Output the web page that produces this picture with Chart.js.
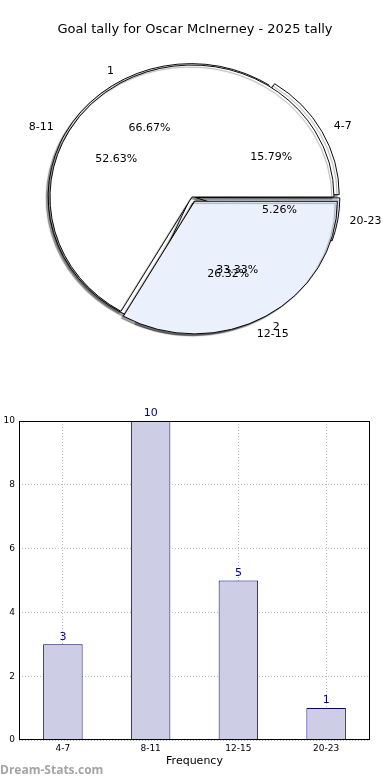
<!DOCTYPE html>
<html>
<head>
<meta charset="utf-8">
<script src="https://cdn.jsdelivr.net/npm/chart.js@4/dist/chart.umd.min.js"></script>
<style>
body { margin: 0; background: #fff; width: 390px; height: 780px; position: relative; overflow: hidden; }
canvas { position: absolute; left: 0; }
#pieB, #pieA { top: 0; }
#bar { top: 400px; }
#mark { position: absolute; left: 0; top: 761px; font: bold 12px "Open Sans"; color: #a4a4a4; }
</style>
</head>
<body>
<canvas id="pieB" width="390" height="400"></canvas>
<canvas id="pieA" width="390" height="400"></canvas>
<canvas id="bar" width="390" height="380"></canvas>
<div id="mark">Dream-Stats.com</div>
<script>
var chartTitle = 'Goal tally for Oscar McInerney - 2025 tally';
var tallyLabels = ['1', '2'];
var tallyValues = [2, 1];
var binLabels = ['4-7', '8-11', '12-15', '20-23'];
var binValues = [3, 10, 5, 1];
var yTicks = [0, 2, 4, 6, 8, 10];

Chart.defaults.font.family = 'DejaVu Sans';
Chart.defaults.color = '#000';

// pie geometry (matplotlib draws it a bit squashed)
var R = 142, CX = 192, CY = 197, SQ = 132 / 142;
var blue = 'rgb(234,240,252)';

// chart.js goes clockwise from the top, matplotlib counter-clockwise from 3 o'clock,
// so feed the slices reversed and start at 90 degrees
function rev(a) { return a.slice().reverse(); }

var squash = {
    id: 'squash',
    beforeDatasetsDraw: function (chart) {
        var c = chart.ctx;
        c.save();
        c.translate(0, CY);
        c.scale(1, SQ);
        c.translate(0, -CY);
        c.shadowColor = 'rgba(0,0,0,0.35)';
        c.shadowOffsetX = -2;
        c.shadowOffsetY = 2;
        c.shadowBlur = 1;
    },
    afterDatasetsDraw: function (chart) {
        chart.ctx.restore();
    }
};

function pieConfig(labels, values, colors, offsets) {
    return {
        type: 'pie',
        data: {
            labels: rev(labels),
            datasets: [{
                data: rev(values),
                backgroundColor: rev(colors),
                borderColor: '#000',
                borderWidth: 1,
                hoverBorderWidth: 1,
                offset: rev(offsets),
                hoverOffset: 0,
                radius: R
            }]
        },
        options: {
            responsive: false,
            animation: false,
            rotation: 90,
            events: [],
            layout: { padding: { left: 0, top: 0, right: 390 - 2 * CX, bottom: 400 - 2 * CY } },
            plugins: { legend: { display: false }, tooltip: { enabled: false } }
        },
        plugins: [squash]
    };
}

var pieB = new Chart(document.getElementById('pieB'),
    pieConfig(binLabels, binValues, ['#fff', '#fff', blue, blue], [20, 4, 20, 14]));

function pieText(ctx, chart, labels, values) {
    var meta = chart.getDatasetMeta(0);
    var total = values.reduce(function (a, b) { return a + b; }, 0);
    var labs = rev(labels), vals = rev(values);
    ctx.font = '11px "DejaVu Sans"';
    ctx.fillStyle = '#000';
    ctx.textBaseline = 'middle';
    meta.data.forEach(function (arc, i) {
        var mid = (arc.startAngle + arc.endAngle) / 2;
        var off = (arc.options.offset || 0) / 4;
        var cx = arc.x + Math.cos(mid) * off;
        var cy = arc.y + Math.sin(mid) * off;
        var r = arc.outerRadius;
        var px = cx + Math.cos(mid) * r * 0.6;
        var py = cy + Math.sin(mid) * r * 0.6;
        ctx.textAlign = 'center';
        ctx.fillText((vals[i] / total * 100).toFixed(2) + '%', px, CY + (py - CY) * SQ);
        var lx = cx + Math.cos(mid) * r * 1.1;
        var ly = cy + Math.sin(mid) * r * 1.1;
        ctx.textAlign = Math.cos(mid) > 0 ? 'left' : 'right';
        ctx.fillText(labs[i], lx, CY + (ly - CY) * SQ);
    });
}

var cfgA = pieConfig(tallyLabels, tallyValues, ['#fff', blue], [0, 21]);
cfgA.plugins.push({
    id: 'pieLabels',
    afterDraw: function (chart) {
        var ctx = chart.ctx;
        ctx.save();
        pieText(ctx, pieB, binLabels, binValues);
        pieText(ctx, chart, tallyLabels, tallyValues);
        ctx.font = '13px "DejaVu Sans"';
        ctx.textAlign = 'center';
        ctx.textBaseline = 'middle';
        ctx.fillText(chartTitle, 195, 30);
        ctx.restore();
    }
});
var pieA = new Chart(document.getElementById('pieA'), cfgA);

// bar chart
var gridStyle = { color: '#b8b8b8', lineWidth: 1, drawTicks: false };

var barDecor = {
    id: 'barDecor',
    afterDatasetsDraw: function (chart) {
        var ctx = chart.ctx, a = chart.chartArea;
        ctx.save();
        ctx.strokeStyle = '#000';
        ctx.lineWidth = 1;
        ctx.strokeRect(Math.round(a.left) + 0.5, Math.round(a.top) + 0.5,
            Math.round(a.right - a.left) - 1, Math.round(a.bottom - a.top) - 1);
        ctx.fillStyle = '#00008b';
        ctx.font = '11px "DejaVu Sans"';
        ctx.textAlign = 'center';
        ctx.textBaseline = 'bottom';
        chart.getDatasetMeta(0).data.forEach(function (bar, i) {
            ctx.fillText(String(binValues[i]), bar.x, bar.y - 2);
        });
        ctx.fillStyle = '#000';
        ctx.textBaseline = 'middle';
        ctx.fillText('Frequency', (a.left + a.right) / 2, 361);
        ctx.translate(-5, (a.top + a.bottom) / 2);
        ctx.rotate(-Math.PI / 2);
        ctx.fillText('Goal Tally', 0, 0);
        ctx.restore();
    }
};

new Chart(document.getElementById('bar'), {
    type: 'bar',
    data: {
        labels: binLabels,
        datasets: [{
            data: binValues,
            backgroundColor: '#cdcde5',
            borderColor: '#000080',
            borderWidth: 1,
            barPercentage: 0.45,
            categoryPercentage: 1
        }]
    },
    options: {
        responsive: false,
        animation: false,
        events: [],
        layout: { padding: { left: 0, top: 21, right: 20, bottom: 0 } },
        plugins: { legend: { display: false }, tooltip: { enabled: false } },
        scales: {
            x: {
                grid: Object.assign({ offset: false }, gridStyle),
                border: { display: false, dash: [1, 2] },
                ticks: { font: { size: 9 }, padding: 3, color: '#000' },
                afterFit: function (s) { s.height = 40; }
            },
            y: {
                min: 0,
                max: yTicks[yTicks.length - 1],
                afterBuildTicks: function (s) { s.ticks = yTicks.map(function (v) { return { value: v }; }); },
                grid: gridStyle,
                border: { display: false, dash: [1, 2] },
                ticks: { font: { size: 9 }, padding: 4, color: '#000' },
                afterFit: function (s) { s.width = 19; }
            }
        }
    },
    plugins: [barDecor]
});
</script>
</body>
</html>
